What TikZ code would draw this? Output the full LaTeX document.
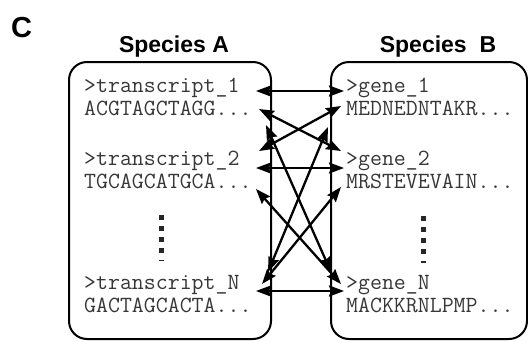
\documentclass[tikz,border=0pt]{standalone}
\usepackage{fontspec}
\setmainfont{Liberation Sans}
\usetikzlibrary{arrows.meta}
\definecolor{seqgray}{RGB}{55,55,55}
\begin{document}
\begin{tikzpicture}[x=1pt,y=-1pt,
  seq/.style={anchor=base west,inner sep=0pt,font=\ttfamily\fontsize{23.2}{23}\selectfont,text=seqgray},
  ttl/.style={anchor=base,inner sep=0pt,font=\bfseries\fontsize{23}{23}\selectfont},
  box/.style={draw,line width=2pt,rounded corners=18pt,inner sep=0pt,anchor=north west},
  link/.style={line width=2.3pt,{Stealth[length=15pt,width=11pt,inset=2pt]}-{Stealth[length=15pt,width=11pt,inset=2pt]}},
  sq/.style={fill=black!85,draw=none}
]
\useasboundingbox (0,0) rectangle (528,341);
% labels
\node[anchor=base west,inner sep=0pt,font=\bfseries\fontsize{29}{29}\selectfont] (lab) at (11,37) {C};
\node[ttl] (tA) at (174,52) {Species A};
\node[ttl] (tB) at (438,52) {Species\ \ B};
% boxes
\node[box,minimum width=202pt,minimum height=277pt] (boxA) at (68,61) {};
\node[box,minimum width=196pt,minimum height=277pt] (boxB) at (330,61) {};
% sequences species A
\node[seq] (t1) at (84,92) {>transcript\_1};
\node[seq] (s1) at (84,115) {ACGTAGCTAGG...};
\node[seq] (t2) at (84,165) {>transcript\_2};
\node[seq] (s2) at (84,188) {TGCAGCATGCA...};
\node[seq] (tN) at (84,289) {>transcript\_N};
\node[seq] (sN) at (84,312) {GACTAGCACTA...};
% sequences species B
\node[seq] (g1) at (346,92) {>gene\_1};
\node[seq] (p1) at (346,115) {MEDNEDNTAKR...};
\node[seq] (g2) at (346,165) {>gene\_2};
\node[seq] (p2) at (346,188) {MRSTEVEVAIN...};
\node[seq] (gN) at (346,289) {>gene\_N};
\node[seq] (pN) at (346,312) {MACKKRNLPMP...};
% vertical dots
\foreach \yy in {215,226,237,248}{
  \fill[sq] (158.5,\yy) rectangle ++(5,5);
  \fill[sq] (420.5,\yy+1) rectangle ++(5,5);
}
\fill[sq] (158.5,259.5) rectangle ++(5,1.5);
\fill[sq] (420.5,261) rectangle ++(5,1.5);
% ports
\coordinate (a1) at (256,91);  \coordinate (b1) at (344,91);
\coordinate (a2) at (256,168); \coordinate (b2) at (344,168);
\coordinate (a3) at (256,291); \coordinate (b3) at (344,291);
\coordinate (c1) at (259,109); \coordinate (d1) at (341,151);
\coordinate (c2) at (341,106); \coordinate (d2) at (259,151);
\coordinate (c3) at (266,125); \coordinate (d3) at (331,272);
\coordinate (c4) at (328,127); \coordinate (d4) at (268,272);
\coordinate (c5) at (256,189); \coordinate (d5) at (341,284);
\coordinate (c6) at (341,187); \coordinate (d6) at (262,284);
% links
\draw[link] (a1) -- (b1);
\draw[link] (a2) -- (b2);
\draw[link] (a3) -- (b3);
\draw[link] (c1) -- (d1);
\draw[link] (c2) -- (d2);
\draw[link] (c3) -- (d3);
\draw[link] (c4) -- (d4);
\draw[link] (c5) -- (d5);
\draw[link] (c6) -- (d6);
\end{tikzpicture}
\end{document}
